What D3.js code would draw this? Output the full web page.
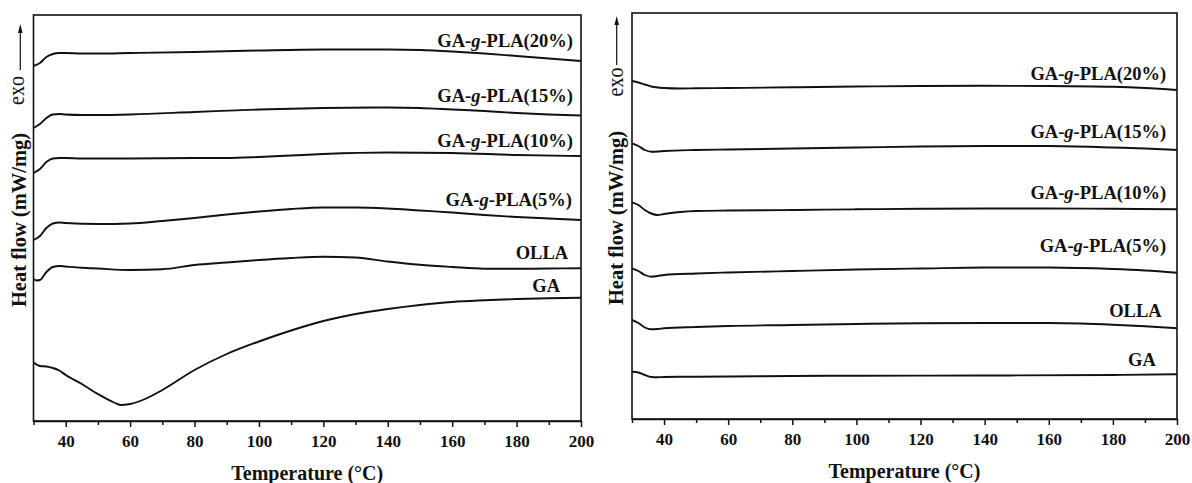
<!DOCTYPE html>
<html>
<head>
<meta charset="utf-8">
<script src="https://cdn.jsdelivr.net/npm/d3@7"></script>
<style>
  html, body { margin: 0; padding: 0; background: #fff; }
  svg { display: block; }
  text { font-family: "Liberation Serif", "Times New Roman", serif; fill: #111; }
</style>
</head>
<body>
<svg id="chart" width="1192" height="483"></svg>
<script>
// ---------------- DATA ----------------
// x axis: temperature (°C); y: heat flow (arbitrary offset units, exo up)
const xTicks = [30, 40, 50, 60, 70, 80, 90, 100, 110, 120, 130, 140, 150, 160, 170, 180, 190, 200];
const xTickLabels = ["", "40", "", "60", "", "80", "", "100", "", "120", "", "140", "", "160", "", "180", "", "200"];
const seriesNames = ["GA-g-PLA(20%)", "GA-g-PLA(15%)", "GA-g-PLA(10%)", "GA-g-PLA(5%)", "OLLA", "GA"];

// Left panel
const L20_T = [30,32,34,36,38,40,45,50,60,80,100,120,140,150,160,170,180,190,200];
const L20_V = [35.5,35.8,36.4,36.7,36.8,36.8,36.75,36.75,36.8,36.9,37.05,37.15,37.15,37.1,36.95,36.75,36.5,36.25,36.0];
const L15_T = [30,32,34,36,38,40,45,50,60,80,100,120,140,150,160,170,180,190,200];
const L15_V = [29.3,29.7,30.3,30.65,30.7,30.65,30.6,30.6,30.65,30.9,31.15,31.3,31.35,31.3,31.15,31.0,30.8,30.65,30.55];
const L10_T = [30,32,34,36,38,40,45,50,60,80,90,100,110,120,140,160,180,200];
const L10_V = [24.8,25.2,25.9,26.25,26.3,26.3,26.25,26.25,26.25,26.3,26.3,26.4,26.55,26.7,26.85,26.8,26.6,26.5];
const L5_T = [30,32,34,36,38,40,50,60,70,80,90,100,110,120,130,140,150,160,170,180,190,200];
const L5_V = [18.1,18.5,19.3,19.75,19.85,19.8,19.7,19.75,20.0,20.3,20.65,20.95,21.2,21.35,21.35,21.25,21.05,20.85,20.6,20.4,20.25,20.1];
const LOLLA_T = [30,31,32,34,36,38,40,45,50,60,70,80,90,100,110,120,130,140,150,160,170,180,190,200];
const LOLLA_V = [14.2,14.05,14.1,14.9,15.4,15.5,15.45,15.33,15.25,15.1,15.17,15.6,15.85,16.1,16.3,16.43,16.35,15.95,15.62,15.4,15.23,15.22,15.25,15.27];
const LGA_T = [30,32,34,36,38,40,45,50,55,57,60,65,70,80,90,100,110,120,130,140,150,160,170,180,190,200];
const LGA_V = [5.85,5.5,5.45,5.3,5.05,4.6,3.7,2.7,1.85,1.6,1.7,2.25,3.1,5.1,6.7,7.95,9.05,10.0,10.7,11.2,11.6,11.9,12.07,12.2,12.28,12.33];

// Right panel
const R20_T = [30,32,34,36,40,45,50,60,80,100,120,140,160,180,190,200];
const R20_V = [33.8,33.65,33.45,33.25,33.1,33.05,33.07,33.1,33.17,33.25,33.3,33.32,33.3,33.22,33.1,32.9];
const R15_T = [30,32,34,36,38,40,50,60,80,100,120,140,160,180,190,200];
const R15_V = [27.57,27.3,26.9,26.73,26.75,26.8,26.9,26.95,27.05,27.15,27.25,27.3,27.3,27.15,27.05,26.9];
const R10_T = [30,32,34,36,38,40,45,50,60,80,100,120,140,160,180,200];
const R10_V = [21.67,21.4,20.9,20.55,20.4,20.5,20.7,20.8,20.85,20.9,20.97,21.02,21.05,21.05,21.02,20.97];
const R5_T = [30,32,34,36,38,40,50,60,80,100,120,140,160,180,190,200];
const R5_V = [15.07,14.8,14.4,14.23,14.3,14.4,14.55,14.65,14.8,14.95,15.05,15.15,15.15,15.0,14.85,14.63];
const ROLLA_T = [30,32,34,36,38,40,50,60,80,100,120,140,160,170,180,190,200];
const ROLLA_V = [9.9,9.6,9.15,8.97,9.0,9.07,9.2,9.3,9.4,9.5,9.57,9.6,9.6,9.55,9.43,9.27,9.07];
const RGA_T = [30,32,34,36,38,40,50,80,100,140,180,200];
const RGA_V = [4.73,4.65,4.4,4.2,4.17,4.2,4.23,4.3,4.33,4.35,4.4,4.47];

// ---------------- LAYOUT ----------------
const svg = d3.select("#chart");
const panels = [
  {
    box: {left: 33.5, right: 581, top: 15, bottom: 421},
    series: [[L20_T, L20_V], [L15_T, L15_V], [L10_T, L10_V], [L5_T, L5_V], [LOLLA_T, LOLLA_V], [LGA_T, LGA_V]],
    labelPos: [[197.5, 37.4], [197.5, 31.87], [197.5, 27.43], [197.2, 21.53], [196, 16.17], [193.5, 12.93]],
    yLabelX: 26, exoX: 24.3, exoY: 90.5, arrowX: 20.3, arrowTop: 24, arrowBottom: 70,
    xTitleY: 480
  },
  {
    box: {left: 632, right: 1177, top: 13, bottom: 419},
    series: [[R20_T, R20_V], [R15_T, R15_V], [R10_T, R10_V], [R5_T, R5_V], [ROLLA_T, ROLLA_V], [RGA_T, RGA_V]],
    labelPos: [[196.6, 33.9], [196.6, 28.07], [196.6, 21.97], [196.6, 16.73], [195.2, 10.17], [193.4, 5.3]],
    yLabelX: 622.7, exoX: 623.3, exoY: 82, arrowX: 616.7, arrowTop: 16, arrowBottom: 65,
    xTitleY: 477.5
  }
];

const ink = "#111";

panels.forEach(p => {
  const b = p.box;
  const x = d3.scaleLinear().domain([30, 200]).range([b.left, b.right]);
  const y = d3.scaleLinear().domain([0, 40.6]).range([b.bottom, b.top]);
  const g = svg.append("g");

  // curves
  const line = d3.line().x(d => x(d[0])).y(d => y(d[1])).curve(d3.curveMonotoneX);
  p.series.forEach(([T, V]) => {
    g.append("path")
      .datum(T.map((t, i) => [t, V[i]]))
      .attr("d", line)
      .attr("fill", "none")
      .attr("stroke", ink)
      .attr("stroke-width", 1.9)
      .attr("stroke-linejoin", "round");
  });

  // series labels
  seriesNames.forEach((name, i) => {
    const [lt, lv] = p.labelPos[i];
    const t = g.append("text")
      .attr("x", x(lt)).attr("y", y(lv))
      .attr("text-anchor", "end")
      .attr("font-size", 18.5)
      .attr("font-weight", "bold");
    const m = name.match(/^(GA-)(g)(-PLA.*)$/);
    if (m) {
      t.append("tspan").text(m[1]);
      t.append("tspan").attr("font-style", "italic").text(m[2]);
      t.append("tspan").text(m[3]);
    } else {
      t.text(name);
    }
  });

  // frame
  g.append("rect")
    .attr("x", b.left).attr("y", b.top)
    .attr("width", b.right - b.left).attr("height", b.bottom - b.top)
    .attr("fill", "none").attr("stroke", ink).attr("stroke-width", 1.6);

  // x axis
  const axis = d3.axisBottom(x)
    .tickValues(xTicks)
    .tickSizeOuter(0)
    .tickFormat((d, i) => xTickLabels[i]);
  const ax = g.append("g").attr("transform", `translate(0,${b.bottom})`).call(axis);
  ax.select(".domain").attr("stroke", ink).attr("stroke-width", 1.6);
  ax.selectAll(".tick line")
    .attr("stroke", ink).attr("stroke-width", 1.5)
    .attr("y2", (d, i) => xTickLabels[i] ? 6 : 4);
  ax.selectAll(".tick text")
    .attr("y", 25.5).attr("dy", 0)
    .attr("fill", ink)
    .attr("font-family", "'Liberation Serif', 'Times New Roman', serif")
    .attr("font-size", 17)
    .attr("font-weight", "bold");

  // x title
  svg.append("text")
    .attr("x", (b.left + b.right) / 2).attr("y", p.xTitleY)
    .attr("text-anchor", "middle")
    .attr("font-size", 20).attr("font-weight", "bold")
    .text("Temperature (°C)");

  // y title
  svg.append("text")
    .attr("transform", `translate(${p.yLabelX},${(b.top + b.bottom) / 2 + 2}) rotate(-90)`)
    .attr("text-anchor", "middle")
    .attr("font-size", 20.5).attr("font-weight", "bold")
    .text("Heat flow (mW/mg)");

  // exo with arrow
  svg.append("text")
    .attr("transform", `translate(${p.exoX},${p.exoY}) rotate(-90)`)
    .attr("text-anchor", "middle")
    .attr("font-size", 24)
    .attr("textLength", 29).attr("lengthAdjust", "spacingAndGlyphs")
    .text("exo");
  svg.append("line")
    .attr("x1", p.arrowX).attr("x2", p.arrowX)
    .attr("y1", p.arrowBottom).attr("y2", p.arrowTop + 6)
    .attr("stroke", ink).attr("stroke-width", 1.2);
  svg.append("path")
    .attr("d", d3.line()([[p.arrowX, p.arrowTop], [p.arrowX - 2.3, p.arrowTop + 9], [p.arrowX + 2.3, p.arrowTop + 9]]) + "Z")
    .attr("fill", ink);
});
</script>
</body>
</html>
